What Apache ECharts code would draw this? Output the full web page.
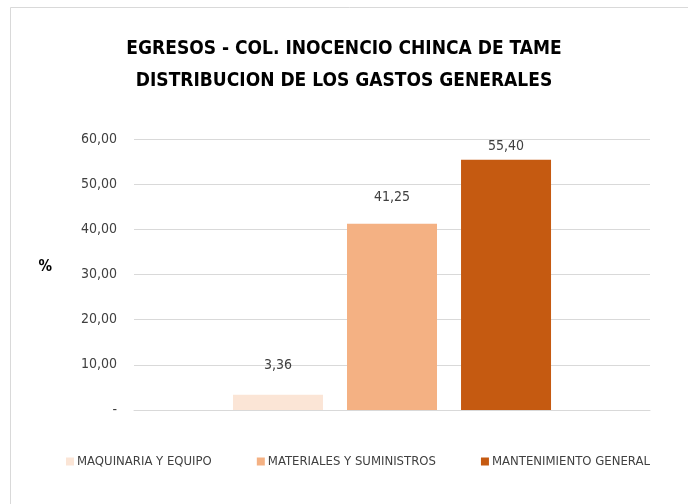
<!DOCTYPE html>
<html>
<head>
<meta charset="utf-8">
<script src="https://cdn.jsdelivr.net/npm/echarts@6/dist/echarts.min.js"></script>
<style>
  html, body { margin: 0; padding: 0; background: #fff; }
  #main { width: 688px; height: 504px; }
</style>
</head>
<body>
<div id="main"></div>
<script>
const titleLines = ['EGRESOS - COL. INOCENCIO CHINCA DE TAME', 'DISTRIBUCION DE LOS GASTOS GENERALES'];
const seriesNames = ['MAQUINARIA Y EQUIPO', 'MATERIALES Y SUMINISTROS', 'MANTENIMIENTO GENERAL'];
const seriesValues = [3.36, 41.25, 55.40];
const seriesColors = ['#FBE5D6', '#F4B183', '#C55A11'];
const labelDistance = [22, 19, 6];
const yTicks = { min: 0, max: 60, interval: 10 };

const font = '"DejaVu Sans Condensed", "Liberation Sans", sans-serif';
const fmt = v => v === 0 ? '-' : v.toFixed(2).replace('.', ',');

const myChart = echarts.init(document.getElementById('main'));

const series = seriesNames.map((name, i) => ({
  name: name,
  type: 'bar',
  data: [seriesValues[i]],
  barWidth: 90,
  barGap: '26.7%',
  itemStyle: { color: seriesColors[i] },
  label: {
    show: true,
    position: 'top',
    distance: labelDistance[i],
    color: '#404040',
    fontFamily: font,
    fontSize: 14,
    formatter: p => fmt(p.value)
  }
}));

const option = {
  backgroundColor: '#fff',
  animation: false,
  title: {
    text: titleLines.join('\n'),
    left: 'center',
    top: 28,
    textStyle: {
      fontFamily: font,
      fontSize: 19,
      fontWeight: 'bold',
      color: '#000',
      lineHeight: 32
    }
  },
  graphic: [{
    type: 'rect',
    shape: { x: 10.5, y: 7.5, width: 700, height: 520 },
    style: { fill: 'none', stroke: '#d9d9d9', lineWidth: 1 },
    silent: true
  }],
  legend: {
    data: seriesNames,
    bottom: 31,
    left: 61,
    itemWidth: 8,
    itemHeight: 8,
    itemGap: 45,
    icon: 'rect',
    textStyle: { fontFamily: font, fontSize: 13, color: '#404040', padding: [0, 0, 0, -2] }
  },
  grid: { left: 134, right: 38, top: 139, bottom: 94 },
  xAxis: {
    type: 'category',
    data: [''],
    axisTick: { show: false },
    axisLabel: { show: false },
    axisLine: { lineStyle: { color: '#d9d9d9' } }
  },
  yAxis: {
    type: 'value',
    min: yTicks.min,
    max: yTicks.max,
    interval: yTicks.interval,
    name: '%',
    nameLocation: 'middle',
    nameRotate: 0,
    nameGap: 82,
    nameTextStyle: { fontFamily: font, fontSize: 15, fontWeight: 'bold', color: '#000', verticalAlign: 'bottom' },
    axisLine: { show: false },
    axisTick: { show: false },
    axisLabel: {
      margin: 17,
      color: '#404040',
      fontFamily: font,
      fontSize: 14,
      formatter: v => fmt(v)
    },
    splitLine: { lineStyle: { color: '#d9d9d9' } }
  },
  series: series
};

myChart.setOption(option);
</script>
</body>
</html>
